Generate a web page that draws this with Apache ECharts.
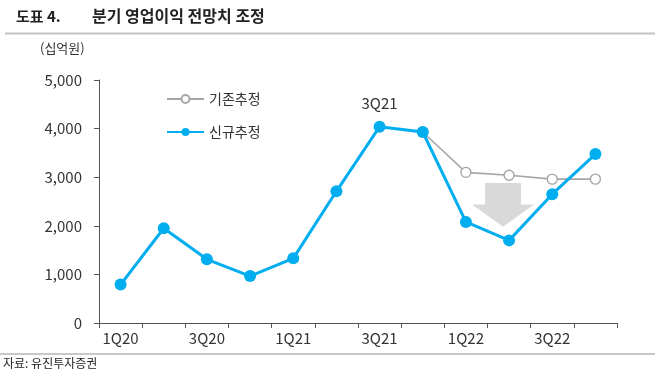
<!DOCTYPE html>
<html>
<head>
<meta charset="utf-8">
<script src="https://cdn.jsdelivr.net/npm/echarts@6/dist/echarts.min.js"></script>
<style>html,body{margin:0;padding:0;background:#fff}#c{width:660px;height:382px}</style>
</head>
<body>
<div id="c"></div>
<script>
var categories = ['1Q20','2Q20','3Q20','4Q20','1Q21','2Q21','3Q21','4Q21','1Q22','2Q22','3Q22','4Q22'];
var oldEstimate = [null,null,null,null,null,null,null,3930,3100,3040,2960,2960];
var newEstimate = [790,1950,1310,965,1330,2710,4040,3930,2080,1700,2650,3475];
var yTicks = [0,1000,2000,3000,4000,5000];
var seriesNames = ['기존추정','신규추정'];

(function(){
var FONT = '"Noto Sans CJK KR", "Noto Sans", sans-serif';
var chart = echarts.init(document.getElementById('c'));
var option = {
  animation: false,
  textStyle: {fontFamily: FONT},
  grid: {left: 99, right: 43, top: 80, bottom: 59, containLabel: false},
  legend: {
    orient: 'vertical', left: 161, top: 87, itemWidth: 37, itemHeight: 10, itemGap: 19,
    textStyle: {fontSize: 14, color: '#333', fontFamily: FONT},
    data: seriesNames
  },
  xAxis: {
    type: 'category', data: categories, boundaryGap: true,
    axisLine: {lineStyle: {color: '#555', width: 1}},
    axisTick: {show: true, length: 5, interval: 0, lineStyle: {color: '#555'}},
    axisLabel: {interval: 0, fontSize: 15, color: '#333', margin: 8, fontFamily: FONT,
      formatter: function(v, i){ return i % 2 === 0 ? v : ''; }}
  },
  yAxis: {
    type: 'value', min: yTicks[0], max: yTicks[yTicks.length-1], interval: 1000,
    splitLine: {show: false},
    axisLine: {show: true, lineStyle: {color: '#555', width: 1}},
    axisTick: {show: true, length: 5, lineStyle: {color: '#555'}},
    axisLabel: {fontSize: 15, color: '#333', margin: 17, fontFamily: FONT,
      formatter: function(v){ return v.toLocaleString('en-US'); }}
  },
  series: [
    {
      name: seriesNames[0], type: 'line', data: oldEstimate, z: 2,
      symbol: 'circle', symbolSize: 10, showAllSymbol: true,
      lineStyle: {color: '#A6A6A6', width: 1.6},
      itemStyle: {color: '#fff', borderColor: '#A6A6A6', borderWidth: 1.4}
    },
    {
      name: seriesNames[1], type: 'line', data: newEstimate.map(function(v,i){
        return categories[i]==='3Q21' ? {value: v, label: {show: true, position: 'top', distance: 10, formatter: categories[i], fontSize: 15, color: '#333', fontFamily: FONT}} : v;
      }), z: 3,
      symbol: 'circle', symbolSize: 12, showAllSymbol: true,
      lineStyle: {color: '#00AEEF', width: 3},
      itemStyle: {color: '#00AEEF'}
    }
  ]
};
chart.setOption(option);

// annotation arrow (decoration) positioned from data space
var p8 = chart.convertToPixel({xAxisIndex:0, yAxisIndex:0}, [8, 2880]);
var p9 = chart.convertToPixel({xAxisIndex:0, yAxisIndex:0}, [9, 2440]);
var pTip = chart.convertToPixel({yAxisIndex:0}, 1980);
var cx = p8[0] + (p9[0]-p8[0]) * 0.86;
var yTop = p8[1], yMid = p9[1];
var arrowPts = [[cx-18, yTop],[cx+18, yTop],[cx+18, yMid],[cx+31, yMid],[cx, pTip],[cx-31, yMid],[cx-18, yMid]];

chart.setOption({graphic: [
  {type:'polygon', shape:{points: arrowPts}, style:{fill:'#D9D9D9'}, z: 1, silent: true},
  {type:'text', left: 16, top: 9, style:{text:'도표 4.', font:'bold 15px ' + FONT, fill:'#222'}},
  {type:'text', left: 92, top: 8, style:{text:'분기 영업이익 전망치 조정', font:'bold 16px ' + FONT, fill:'#222'}},
  {type:'line', shape:{x1:5, y1:33.5, x2:655, y2:33.5}, style:{stroke:'#C4C4C4', lineWidth:2}},
  {type:'text', left: 40, top: 42, style:{text:'(십억원)', font:'13px ' + FONT, fill:'#333'}},
  {type:'line', shape:{x1:0, y1:354, x2:655, y2:354}, style:{stroke:'#C8C8C8', lineWidth:2}},
  {type:'text', left: 3, top: 357, style:{text:'자료: 유진투자증권', font:'12px ' + FONT, fill:'#222'}}
]});
})();
</script>
</body>
</html>
